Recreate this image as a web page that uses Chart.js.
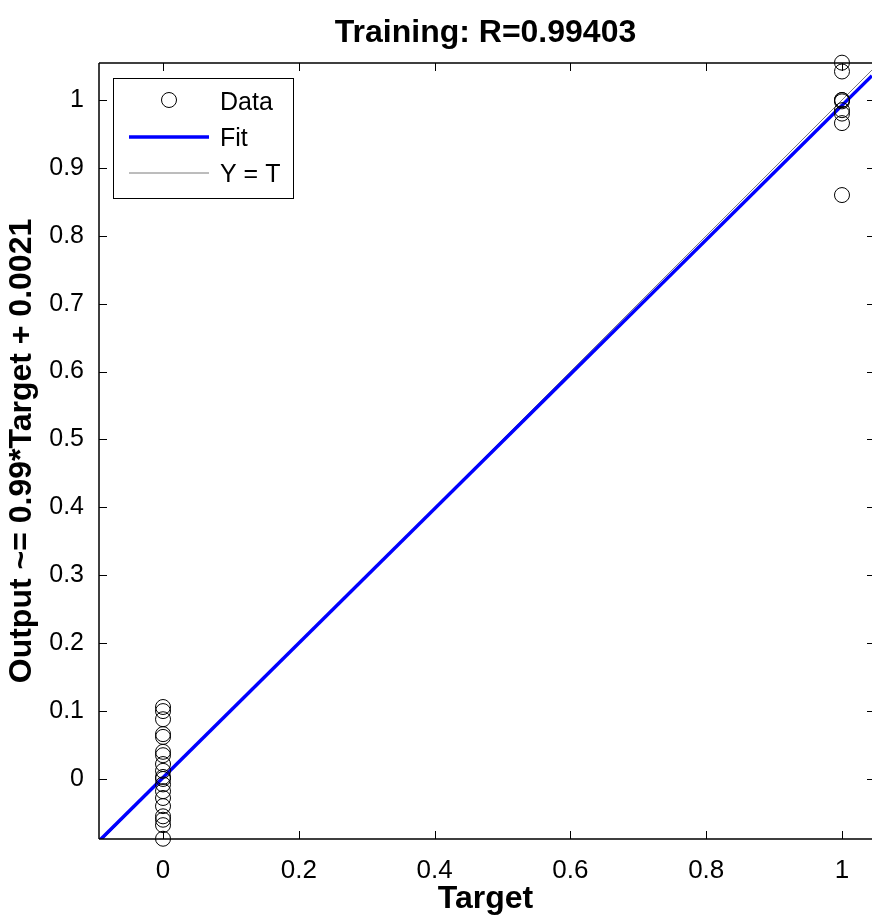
<!DOCTYPE html>
<html>
<head>
<meta charset="utf-8">
<script src="https://cdn.jsdelivr.net/npm/chart.js@4.4.1/dist/chart.umd.min.js"></script>
<style>
  body { margin: 0; background: #fff; }
  canvas { display: block; }
</style>
</head>
<body>
<canvas id="training-reg" width="872" height="918"></canvas>
<script>
// Training set: outputs for target 0 and target 1
var outputsAt0 = [0.106, 0.1, 0.088, 0.066, 0.062, 0.04, 0.035, 0.022, 0.012, 0.003, 0.0, -0.008, -0.018, -0.028, -0.04, -0.055, -0.06, -0.068, -0.088];
var outputsAt1 = [1.055, 1.042, 1.0, 1.0, 0.998, 0.985, 0.98, 0.966, 0.86];

// Fit and Y = T lines, end points at the axis limits
var lineX = [-0.0943, 1.0442];
var fitY = [-0.0913, 1.0359];
var identY = [-0.0943, 1.0442];

// axis limits and ticks
var xLimits = [-0.0943, 1.0442];
var yLimits = [-0.0884, 1.0545];
var xTicks = [0, 0.2, 0.4, 0.6, 0.8, 1];
var yTicks = [0, 0.1, 0.2, 0.3, 0.4, 0.5, 0.6, 0.7, 0.8, 0.9, 1];

var titleText = "Training: R=0.99403";

var dataPts = [];
outputsAt0.forEach(function (v) { dataPts.push({ x: 0, y: v }); });
outputsAt1.forEach(function (v) { dataPts.push({ x: 1, y: v }); });

var fontFamily = "'Liberation Sans', Arial, Helvetica, sans-serif";

// MATLAB style box with inward ticks, title and legend
var axesBox = {
    id: "axesBox",
    afterDatasetsDraw: function (chart) {
        var c = chart.ctx, a = chart.chartArea;
        var xs = chart.scales.x, ys = chart.scales.y;
        c.save();
        c.strokeStyle = "#000";
        c.lineWidth = 1.5;
        c.beginPath();
        c.moveTo(a.left, a.top); c.lineTo(a.right, a.top);
        c.moveTo(a.left, a.top); c.lineTo(a.left, a.bottom);
        c.moveTo(a.left, a.bottom); c.lineTo(a.right, a.bottom);
        c.stroke();
        c.lineWidth = 1;
        c.beginPath();
        xs.ticks.forEach(function (t) {
            var px = Math.round(xs.getPixelForValue(t.value)) + 0.5;
            c.moveTo(px, a.bottom); c.lineTo(px, a.bottom - 8);
            c.moveTo(px, a.top); c.lineTo(px, a.top + 8);
        });
        ys.ticks.forEach(function (t) {
            var py = Math.round(ys.getPixelForValue(t.value)) + 0.5;
            c.moveTo(a.left, py); c.lineTo(a.left + 8, py);
            c.moveTo(a.right, py); c.lineTo(a.right - 5, py);
        });
        c.stroke();
        c.restore();
    },
    afterDraw: function (chart) {
        var c = chart.ctx, ds = chart.data.datasets, a = chart.chartArea;
        c.save();
        // title, centred over the axes
        c.fillStyle = "#000";
        c.font = "bold 32px " + fontFamily;
        c.textAlign = "center";
        c.textBaseline = "middle";
        c.fillText(titleText, (a.left + a.right) / 2, 33);

        // legend in the upper left corner
        var bx = 113.5, by = 78.5, bw = 180, bh = 120;
        c.fillStyle = "#fff";
        c.fillRect(bx, by, bw, bh);
        c.strokeStyle = "#000";
        c.lineWidth = 1;
        c.strokeRect(bx, by, bw, bh);
        var rows = [103, 139.5, 175];
        var marks = [100, 137, 173];
        ds.forEach(function (d, i) {
            c.beginPath();
            if (i === 0) {
                c.arc(169, marks[i], d.pointRadius, 0, Math.PI * 2);
            } else {
                c.moveTo(129, marks[i]); c.lineTo(209, marks[i]);
            }
            c.strokeStyle = d.borderColor;
            c.lineWidth = d.borderWidth;
            c.stroke();
            c.fillStyle = "#000";
            c.font = "25px " + fontFamily;
            c.textBaseline = "middle";
            c.textAlign = "left";
            c.fillText(d.label, 220, rows[i]);
        });
        c.restore();
    }
};

var ctx = document.getElementById("training-reg").getContext("2d");
var regChart = new Chart(ctx, {
    type: "scatter",
    data: {
        datasets: [{
                label: "Data",
                data: dataPts,
                showLine: false,
                clip: false,
                pointRadius: 7.5,
                pointStyle: "circle",
                backgroundColor: "rgba(0,0,0,0)",
                borderColor: "#000",
                borderWidth: 1
            },
            {
                label: "Fit",
                data: lineX.map(function (x, i) { return { x: x, y: fitY[i] }; }),
                showLine: true,
                pointRadius: 0,
                borderColor: "#0000ff",
                borderWidth: 3.5
            },
            {
                label: "Y = T",
                data: lineX.map(function (x, i) { return { x: x, y: identY[i] }; }),
                showLine: true,
                pointRadius: 0,
                borderColor: "#7a7a7a",
                borderWidth: 1
            }
        ]
    },
    options: {
        responsive: false,
        animation: false,
        layout: { autoPadding: false, padding: { top: 63, right: 0, left: 0, bottom: 0 } },
        plugins: {
            legend: { display: false },
            tooltip: { enabled: false },
            title: { display: false }
        },
        scales: {
            x: {
                type: "linear",
                min: xLimits[0],
                max: xLimits[1],
                grid: { display: false },
                border: { display: false },
                afterBuildTicks: function (s) { s.ticks = xTicks.map(function (v) { return { value: v }; }); },
                afterFit: function (s) {
                    s.height = 79;
                    s.paddingLeft = 0;
                    s.paddingRight = 0;
                },
                ticks: {
                    color: "#000",
                    padding: 8,
                    maxRotation: 0,
                    autoSkip: false,
                    font: { family: fontFamily, size: 26 },
                    callback: function (v) { return String(v); }
                },
                title: {
                    display: true,
                    text: "Target",
                    color: "#000",
                    font: { family: fontFamily, size: 32, weight: "bold" },
                    padding: { top: 0, bottom: 0 }
                }
            },
            y: {
                type: "linear",
                min: yLimits[0],
                max: yLimits[1],
                grid: { display: false },
                border: { display: false },
                afterBuildTicks: function (s) { s.ticks = yTicks.map(function (v) { return { value: v }; }); },
                afterFit: function (s) {
                    s.width = 99;
                    s.paddingTop = 0;
                    s.paddingBottom = 0;
                },
                ticks: {
                    color: "#000",
                    padding: 7,
                    autoSkip: false,
                    font: { family: fontFamily, size: 25 },
                    callback: function (v) { return String(v); }
                },
                title: {
                    display: true,
                    text: "Output ~= 0.99*Target + 0.0021",
                    color: "#000",
                    font: { family: fontFamily, size: 32, weight: "bold" },
                    padding: { top: 3, bottom: 0 }
                }
            }
        }
    },
    plugins: [axesBox]
});
</script>
</body>
</html>
